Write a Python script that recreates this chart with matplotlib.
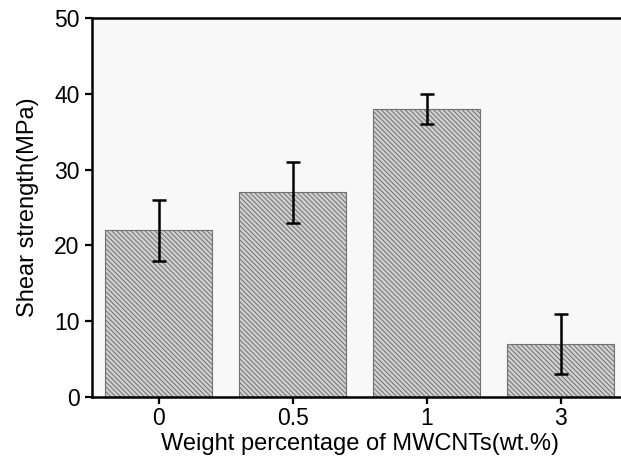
import matplotlib.pyplot as plt

categories = ['0', '0.5', '1', '3']
strength = [22, 27, 38, 7]
errors = [4, 4, 2, 4]

plt.rcParams['font.family'] = ['Liberation Sans', 'DejaVu Sans']
plt.rcParams['hatch.linewidth'] = 0.7
plt.rcParams['hatch.color'] = '#707070'

fig = plt.figure(figsize=(6.21, 4.58), dpi=100)
ax = fig.add_axes([0.148, 0.133, 0.863, 0.828])
ax.set_facecolor('#f8f8f8')

x = range(len(categories))
ax.bar(x, strength, width=0.8, color='#d0d0d0', edgecolor='#707070',
       linewidth=0.8, hatch='\\\\\\\\\\\\\\', zorder=2)
ax.errorbar(x, strength, yerr=errors, fmt='none', ecolor='black',
            elinewidth=1.8, capsize=5, capthick=1.8, zorder=3)

ax.set_xlim(-0.5, 3.5)
ax.set_ylim(0, 50)
ax.set_xticks(list(x))
ax.set_xticklabels(categories)
ax.set_yticks([0, 10, 20, 30, 40, 50])
ax.tick_params(direction='out', length=5, width=1.6, labelsize=16.5)
ax.tick_params(axis='x', pad=2)
ax.tick_params(axis='y', pad=4)
for s in ax.spines.values():
    s.set_linewidth(1.8)

ax.set_xlabel('Weight percentage of MWCNTs(wt.%)', fontsize=17, labelpad=2)
ax.set_ylabel('Shear strength(MPa)', fontsize=17, labelpad=11)

fig.savefig('out.png', dpi=100)
